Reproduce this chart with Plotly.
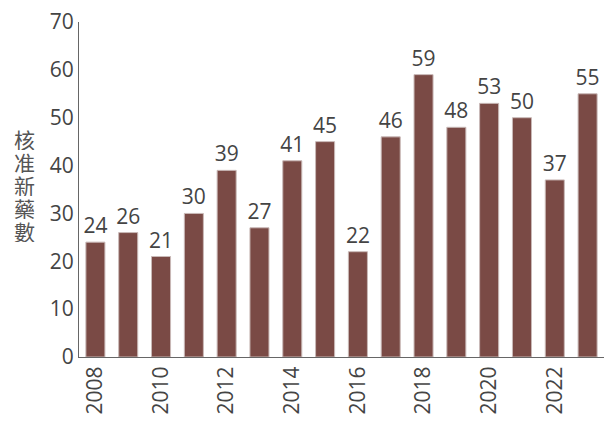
import plotly.graph_objects as go

years = list(range(2008, 2024))
approvals = [24, 26, 21, 30, 39, 27, 41, 45, 22, 46, 59, 48, 53, 50, 37, 55]
y_title = "核准新藥數"

fig = go.Figure(go.Bar(
    x=years, y=approvals,
    marker=dict(color="#7a4a45", line=dict(color="#c9b9b7", width=1)),
    text=[str(v) for v in approvals], textposition="outside",
    textfont=dict(size=21, color="#444444"),
    constraintext="none",
    cliponaxis=False,
))

# vertical stacked title, one character per line with tight spacing
plot_top, plot_h = 22, 335
title_annotations = []
for i, ch in enumerate(y_title):
    py = 139 + i * 23
    title_annotations.append(dict(
        text=ch, xref="paper", yref="paper",
        x=(24 - 79) / 525, y=(plot_top + plot_h - py) / plot_h,
        xanchor="center", yanchor="middle", showarrow=False,
        height=22, valign="middle", borderpad=0,
        font=dict(size=21, color="#555555", family="Noto Sans CJK TC")))

fig.update_layout(
    width=611, height=435,
    margin=dict(l=79, r=7, t=22, b=78),
    paper_bgcolor="white", plot_bgcolor="white",
    font=dict(family="Open Sans, Noto Sans CJK TC", color="#444444", size=21),
    bargap=0.42,
    showlegend=False,
    xaxis=dict(range=[2007.5, 2023.5], tickmode="linear", tick0=2008, dtick=2,
               tickangle=-90, showline=True, linecolor="#666666", linewidth=1,
               showgrid=False, ticks="", tickfont=dict(size=21)),
    yaxis=dict(range=[0, 70], dtick=10, showline=True, linecolor="#666666",
               linewidth=1, showgrid=False, zeroline=False, ticks="",
               tickfont=dict(size=21)),
    annotations=title_annotations,
)

fig.write_html("out.html")
